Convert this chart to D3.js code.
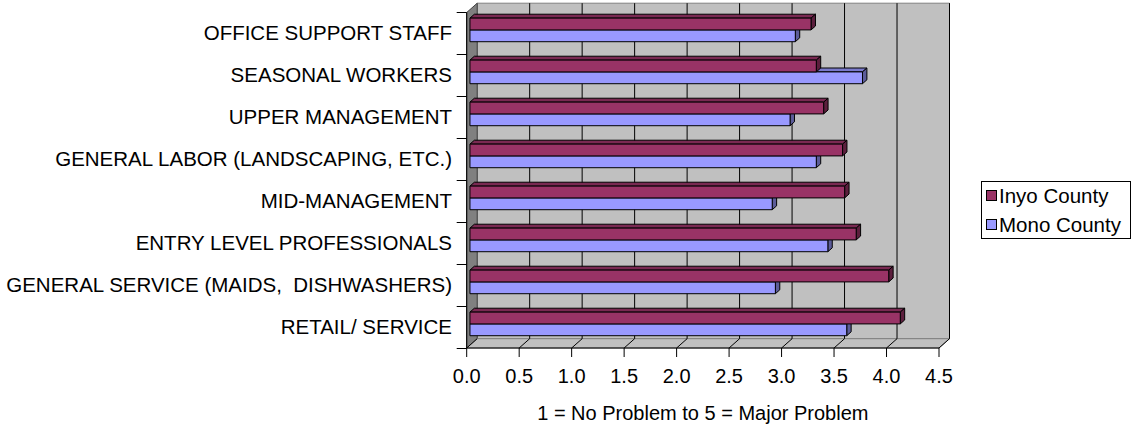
<!DOCTYPE html>
<html>
<head>
<meta charset="utf-8">
<script src="https://cdn.jsdelivr.net/npm/d3@7"></script>
<style>
  html, body { margin: 0; padding: 0; background: #fff; }
  text { font-family: "Liberation Sans", Arial, sans-serif; white-space: pre; }
</style>
</head>
<body>
<svg id="chart" width="1133" height="427"></svg>
<script>
const categories = [
  "OFFICE SUPPORT STAFF",
  "SEASONAL WORKERS",
  "UPPER MANAGEMENT",
  "GENERAL LABOR (LANDSCAPING, ETC.)",
  "MID-MANAGEMENT",
  "ENTRY LEVEL PROFESSIONALS",
  "GENERAL SERVICE (MAIDS,  DISHWASHERS)",
  "RETAIL/ SERVICE"
];
const seriesNames = ["Inyo County", "Mono County"];
const inyo = [3.25, 3.30, 3.37, 3.55, 3.57, 3.68, 3.99, 4.10];
const mono = [3.10, 3.74, 3.05, 3.30, 2.88, 3.41, 2.91, 3.59];
const xTicks = [0, 0.5, 1, 1.5, 2, 2.5, 3, 3.5, 4, 4.5];
const axisTitle = "1 = No Problem to 5 = Major Problem";

(function () {
const svg = d3.select("#chart");
const DX = 10.5, DY = -9.3;           // depth projection vector
const P = (x, y, d) => [x + d * DX, y + d * DY];
const poly = pts => pts.map(p => p.join(",")).join(" ");

const x = d3.scaleLinear().domain([0, 4.5]).range([466.7, 939]);
const y = d3.scaleBand().domain(categories).range([12.5, 348.5]).padding(0);
const yTop = 12.5, yBot = 348;
const x0 = x(0), x1 = x(4.5);

const colors = {
  "Inyo County": { front: "#993366", top: "#7a2952", side: "#5c1f3d" },
  "Mono County": { front: "#9999ff", top: "#7a7acc", side: "#5c5c99" }
};

const g = svg.append("g");
// back wall
g.append("polygon")
  .attr("points", poly([P(x0, yTop, 1), P(x1, yTop, 1), P(x1, yBot, 1), P(x0, yBot, 1)]))
  .attr("fill", "#c0c0c0").attr("stroke", "#808080").attr("stroke-width", 1);
// left wall
g.append("polygon")
  .attr("points", poly([[x0, yTop], P(x0, yTop, 1), P(x0, yBot, 1), [x0, yBot]]))
  .attr("fill", "#808080").attr("stroke", "#404040").attr("stroke-width", 1);
// floor
g.append("polygon")
  .attr("points", poly([[x0, yBot], P(x0, yBot, 1), P(x1, yBot, 1), [x1, yBot]]))
  .attr("fill", "#c0c0c0").attr("stroke", "#808080").attr("stroke-width", 1);

// gridlines on back wall & floor
xTicks.forEach(t => {
  if (t > 0) {
    const a = P(x(t), yTop, 1), b = P(x(t), yBot, 1);
    g.append("line").attr("x1", a[0]).attr("y1", a[1]).attr("x2", b[0]).attr("y2", b[1])
      .attr("stroke", "#000").attr("stroke-width", 1);
  }
  const c = P(x(t), yBot, 1);
  g.append("line").attr("x1", x(t)).attr("y1", yBot).attr("x2", c[0]).attr("y2", c[1])
    .attr("stroke", "#000").attr("stroke-width", 1);
});

// axes lines
g.append("line").attr("x1", x0).attr("y1", yTop).attr("x2", x0).attr("y2", yBot)
  .attr("stroke", "#000");
g.append("line").attr("x1", x0).attr("y1", yBot).attr("x2", x1).attr("y2", yBot)
  .attr("stroke", "#000");

// category ticks
const bounds = categories.map(c => y(c)).concat([y.range()[1]]);
bounds.forEach(b => {
  g.append("line").attr("x1", x0 - 10).attr("y1", b).attr("x2", x0).attr("y2", b)
    .attr("stroke", "#000");
});
// value ticks
xTicks.forEach(t => {
  g.append("line").attr("x1", x(t)).attr("y1", yBot).attr("x2", x(t)).attr("y2", yBot + 9)
    .attr("stroke", "#000");
});

// bars
const d1 = 0.31, d2 = 0.73;
const barH = 11.8;
const bars = [];
categories.forEach((c, i) => {
  const cy = y(c) + y.bandwidth() / 2 - 0.7;
  bars.push({ s: "Inyo County", v: inyo[i], y0: cy - barH, y1: cy });
  bars.push({ s: "Mono County", v: mono[i], y0: cy, y1: cy + barH });
});
bars.sort((a, b) => b.y0 - a.y0);
const bg = svg.append("g").attr("stroke", "#000").attr("stroke-width", 1).attr("stroke-linejoin", "round");
bars.forEach(b => {
  const xs = x(0), xe = x(b.v);
  const col = colors[b.s];
  bg.append("polygon").attr("fill", col.top)
    .attr("points", poly([P(xs, b.y0, d1), P(xe, b.y0, d1), P(xe, b.y0, d2), P(xs, b.y0, d2)]));
  bg.append("polygon").attr("fill", col.side)
    .attr("points", poly([P(xe, b.y0, d1), P(xe, b.y0, d2), P(xe, b.y1, d2), P(xe, b.y1, d1)]));
  bg.append("polygon").attr("fill", col.front)
    .attr("points", poly([P(xs, b.y0, d1), P(xe, b.y0, d1), P(xe, b.y1, d1), P(xs, b.y1, d1)]));
});

// category labels
svg.append("g").selectAll("text").data(categories).join("text")
  .attr("x", 452).attr("y", c => y(c) + y.bandwidth() / 2 + 6.8)
  .attr("text-anchor", "end").attr("font-size", 20.5).attr("fill", "#000")
  .text(c => c);

// value tick labels
svg.append("g").selectAll("text").data(xTicks).join("text")
  .attr("x", t => x(t)).attr("y", 383)
  .attr("text-anchor", "middle").attr("font-size", 20).attr("fill", "#000")
  .text(d3.format(".1f"));

// axis title
svg.append("text").attr("x", (x0 + x1) / 2).attr("y", 420)
  .attr("text-anchor", "middle").attr("font-size", 20).attr("fill", "#000")
  .text(axisTitle);

// legend
const lg = svg.append("g");
lg.append("rect").attr("x", 981.5).attr("y", 181.5).attr("width", 149).attr("height", 57)
  .attr("fill", "#fff").attr("stroke", "#000");
seriesNames.forEach((s, i) => {
  const cy = 196 + i * 29;
  lg.append("rect").attr("x", 986.5).attr("y", cy - 5.5).attr("width", 10).attr("height", 10)
    .attr("fill", colors[s].front).attr("stroke", "#000");
  lg.append("text").attr("x", 999).attr("y", cy + 7)
    .attr("font-size", 20.5).attr("fill", "#000").text(s);
});
})();
</script>
</body>
</html>
